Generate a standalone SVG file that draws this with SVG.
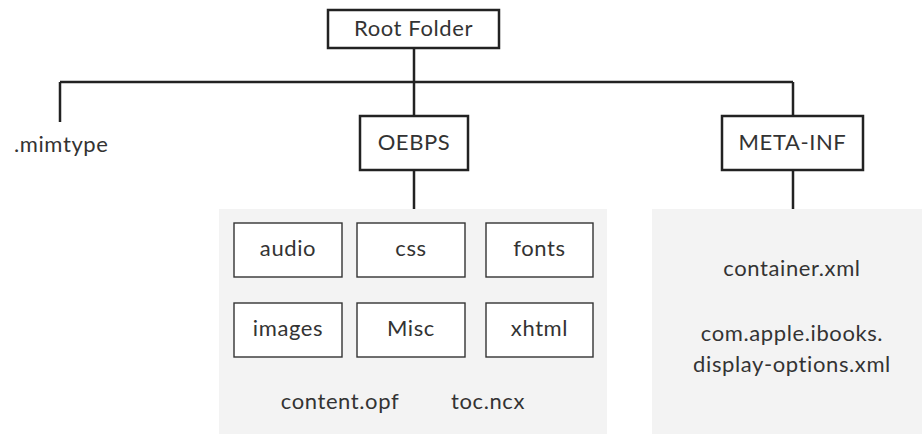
<svg xmlns="http://www.w3.org/2000/svg" width="922" height="434" viewBox="0 0 922 434">
<style>
.t{font-family:"Lato","Noto Sans",sans-serif;font-size:22px;letter-spacing:0.6px;fill:#333;text-anchor:middle}
.top{fill:#fff;stroke:#222;stroke-width:2.5}
.inner{fill:#fff;stroke:#333;stroke-width:1.4}
.panel{fill:#f3f3f3}
.c{fill:none;stroke:#222;stroke-width:2.5}
</style>
<rect width="922" height="434" fill="#fff"/>
<g id="panels">
<rect class="panel" x="219" y="209" width="388" height="225"/>
<rect class="panel" x="652" y="209" width="270" height="225"/>
</g>
<g id="connectors">
<path class="c" d="M414 48 V82 M60 82 H793 M60 82 V122 M414 82 V116 M793 82 V116 M414 170 V209 M793 170 V209"/>
</g>
<g id="root"><rect class="top" x="328" y="10" width="171" height="38"/><text class="t" x="413.5" y="36">Root Folder</text></g>
<g id="mimtype"><text class="t" x="14" y="152" style="text-anchor:start">.mimtype</text></g>
<g id="oebps"><rect class="top" x="360" y="116" width="108" height="54"/><text class="t" x="414" y="150">OEBPS</text></g>
<g id="metainf"><rect class="top" x="722" y="116" width="141" height="54"/><text class="t" x="792.5" y="150">META-INF</text></g>
<g id="audio"><rect class="inner" x="234" y="223" width="108" height="54"/><text class="t" x="288" y="256">audio</text></g>
<g id="css"><rect class="inner" x="357" y="223" width="108" height="54"/><text class="t" x="411" y="256">css</text></g>
<g id="fonts"><rect class="inner" x="486" y="223" width="107" height="54"/><text class="t" x="539.5" y="256">fonts</text></g>
<g id="images"><rect class="inner" x="234" y="303" width="108" height="54"/><text class="t" x="288" y="336">images</text></g>
<g id="misc"><rect class="inner" x="357" y="303" width="108" height="54"/><text class="t" x="411" y="336">Misc</text></g>
<g id="xhtml"><rect class="inner" x="486" y="303" width="107" height="54"/><text class="t" x="539.5" y="336">xhtml</text></g>
<g id="contentopf"><text class="t" x="340" y="409">content.opf</text></g>
<g id="tocncx"><text class="t" x="488" y="409">toc.ncx</text></g>
<g id="container"><text class="t" x="792" y="276">container.xml</text></g>
<g id="displayoptions"><text class="t" x="792" y="341">com.apple.ibooks.</text><text class="t" x="792" y="372">display-options.xml</text></g>
</svg>
